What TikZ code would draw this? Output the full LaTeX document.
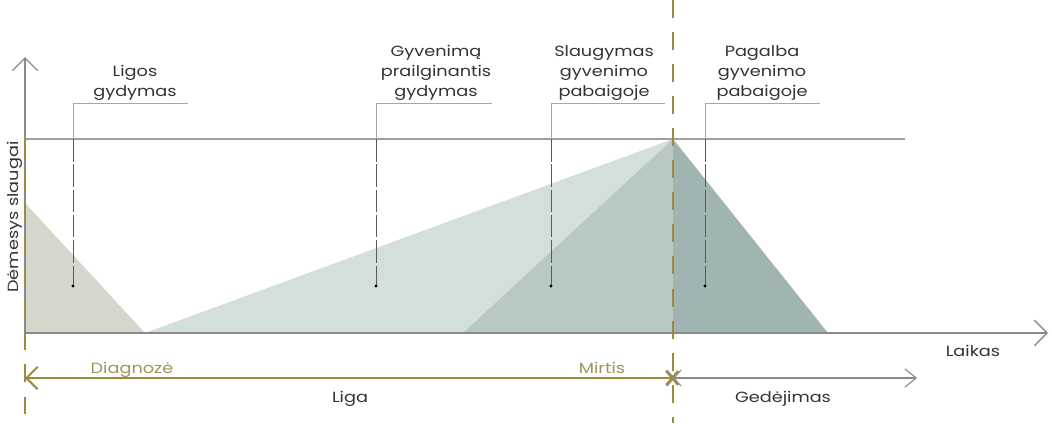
\documentclass[tikz,border=0pt]{standalone}
\usepackage{fontspec}
\setmainfont{Poppins}[FakeStretch=1.2]
\usetikzlibrary{arrows.meta,positioning}
\definecolor{beige}{HTML}{D6D6CC}
\definecolor{tealA}{HTML}{D3DFDB}
\definecolor{tealB}{HTML}{B8C9C3}
\definecolor{tealC}{HTML}{A0B4B1}
\definecolor{olivebar}{HTML}{9C8B3F}
\definecolor{olivetxt}{HTML}{A0935A}
\definecolor{axisgray}{HTML}{8A8A8A}
\definecolor{pingray}{HTML}{5A5A5A}
\definecolor{txtgray}{HTML}{333333}

\begin{document}
\begin{tikzpicture}[
    x=0.025cm, y=-0.025cm,
    font=\fontsize{10.5}{14.2}\selectfont,
    tag/.style={
		align=center,
		inner sep=0pt,
		anchor=south,
		text depth=0pt,
		text=txtgray
	},
	caption/.style={
		inner sep=0pt,
		anchor=base,
		text=txtgray
	},
	olivecap/.style={
		inner sep=0pt,
		anchor=base,
		text=olivetxt
	},
	axis/.style={
		draw=axisgray,
		line width=1pt,
		-{Straight Barb[length=9pt,width=18pt]}
	},
	deathline/.style={
		draw=olivebar,
		line width=1.4pt,
		dash pattern=on 12.8pt off 10pt
	},
	bracket/.style={
		draw=gray!70,
		line width=0.7pt
	},
	pin/.style={
		draw=pingray,
		line width=0.6pt,
		dash pattern=on 16pt off 2pt
	}
  ]
  \useasboundingbox (0,0) rectangle (1052,423);

  % points of the curve
  \coordinate (o) at (25,333);
  \coordinate (ytop) at (25,57);
  \coordinate (xend) at (1048,333);
  \coordinate (start) at (25,203);
  \coordinate (diag) at (145,333);
  \coordinate (mid) at (463,333);
  \coordinate (peak) at (673,139);
  \coordinate (dfoot) at (673,333);
  \coordinate (grief) at (828,333);
  \coordinate (lvl) at (25,139);
  \coordinate (lvlend) at (905,139);

  % areas
  \fill[beige] (start) -- (diag) -- (o) -- cycle;
  \fill[tealA] (diag) -- (peak) -- (dfoot) -- cycle;
  \fill[tealB] (mid) -- (peak) -- (dfoot) -- cycle;
  \fill[tealC] (peak) -- (grief) -- (dfoot) -- cycle;

  \draw[draw=gray!75, line width=1pt] (lvl) -- (lvlend);
  \draw[axis] (o) -- (ytop);
  \draw[axis] (o) -- (xend);

  % diagnosis and death lines
  \coordinate (ltop) at (25,140);
  \coordinate (lbot) at (25,423);
  \coordinate (dtop) at (673,0);
  \coordinate (dbot) at (673,423);
  \draw[deathline] (ltop) -- (lbot);
  \draw[deathline] (dtop) -- (dbot);

  % markers
  \node [tag] (ligos) at (135,97) {Ligos\\gydymas};
  \coordinate (ligosT) at (73,103);
  \coordinate (ligosE) at (188,103);
  \coordinate (ligosX) at (73,139);
  \coordinate (ligosD) at (73,286);
  \draw[bracket] (ligosE) -- (ligosT) -- (ligosX);
  \draw[pin] (ligosX) -- (ligosD);
  \fill[black] (ligosD) circle (1.2pt);

  \node [tag] (prail) at (436,97) {Gyvenimą\\prailginantis\\gydymas};
  \coordinate (prailT) at (376,103);
  \coordinate (prailE) at (492,103);
  \coordinate (prailX) at (376,139);
  \coordinate (prailD) at (376,286);
  \draw[bracket] (prailE) -- (prailT) -- (prailX);
  \draw[pin] (prailX) -- (prailD);
  \fill[black] (prailD) circle (1.2pt);

  \node [tag] (slaug) at (604,97) {Slaugymas\\gyvenimo\\pabaigoje};
  \coordinate (slaugT) at (551,103);
  \coordinate (slaugE) at (665,103);
  \coordinate (slaugX) at (551,139);
  \coordinate (slaugD) at (551,286);
  \draw[bracket] (slaugE) -- (slaugT) -- (slaugX);
  \draw[pin] (slaugX) -- (slaugD);
  \fill[black] (slaugD) circle (1.2pt);

  \node [tag] (pagalba) at (762,97) {Pagalba\\gyvenimo\\pabaigoje};
  \coordinate (pagalbaT) at (705,103);
  \coordinate (pagalbaE) at (820,103);
  \coordinate (pagalbaX) at (705,139);
  \coordinate (pagalbaD) at (705,286);
  \draw[bracket] (pagalbaE) -- (pagalbaT) -- (pagalbaX);
  \draw[pin] (pagalbaX) -- (pagalbaD);
  \fill[black] (pagalbaD) circle (1.2pt);

  % time lines
  \coordinate (death) at (673,378);
  \coordinate (illstart) at (25,378);
  \coordinate (griefend) at (917,378);
  \draw[draw=olivebar, line width=1.4pt, -{Straight Barb[length=8pt,width=16pt]}] (death) -- (illstart);
  \draw[draw=axisgray, line width=0.8pt, -{Straight Barb[length=8pt,width=13pt]}] (death) -- (griefend);
  \draw[draw=axisgray, line width=0.8pt] ([shift={(-6,-8)}]death) -- ([shift={(8,8)}]death)
                                          ([shift={(-6,8)}]death) -- ([shift={(8,-8)}]death);
  \draw[draw=olivebar, line width=1.4pt] ([shift={(-7,-7)}]death) -- ([shift={(5,7)}]death)
                                          ([shift={(-7,7)}]death) -- ([shift={(5,-7)}]death);

  % texts
  \node [caption, rotate=90, anchor=center] (demesys) at (15,217) {Dėmesys slaugai};
  \node [caption] (laikas) at (973,356) {Laikas};
  \node [caption] (liga) at (350,402) {Liga};
  \node [caption] (gedejimas) at (783,402) {Gedėjimas};
  \node [olivecap] (diagnoze) at (132,373) {Diagnozė};
  \node [olivecap] (mirtis) at (602,373) {Mirtis};

\end{tikzpicture}
\end{document}
